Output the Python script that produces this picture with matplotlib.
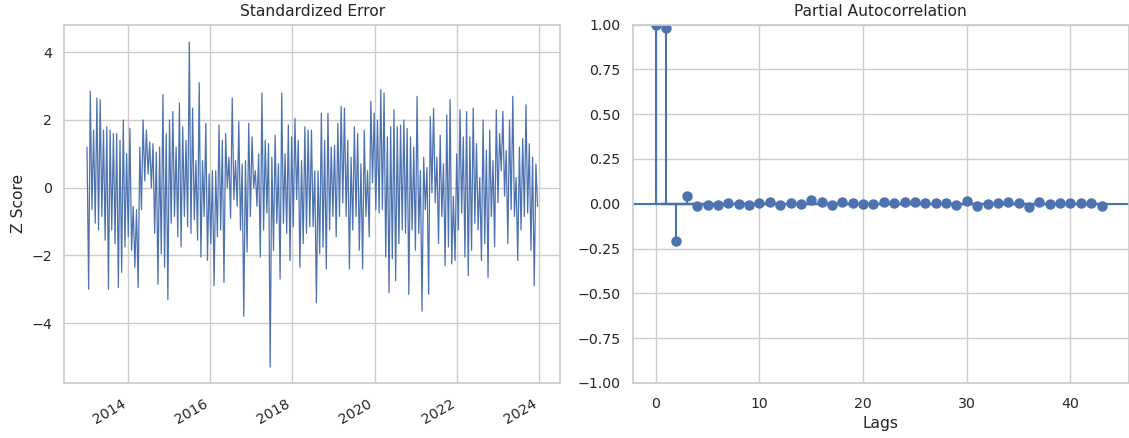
import numpy as np
import pandas as pd
import matplotlib
matplotlib.use("Agg")
import matplotlib.pyplot as plt
import matplotlib.dates as mdates

# standardized residuals, read as (high, low) per short time slice, left to right
err_hi = [1.2, 2.85, 1.7, 2.65, 2.6, 1.7, 1.8, 1.7, 1.6, 1.6, 1.4, 2.0, 1.0, 1.75, -0.55, -0.65, 1.2, 2.0, 1.7, 1.35, 1.3, 1.05,
          1.2, 2.75, 1.6, 2.0, 2.25, 1.2, 2.5, 1.8, 1.4, 4.3, 2.35, 0.8, 3.1, 0.8, 1.9, 0.4, 0.5, 0.5, 1.85, 1.4, 1.6, 0.9, 2.65,
          0.8, 1.95, 0.7, 0.8, 1.9, 1.5, 0.5, 1.0, 2.8, 1.4, 1.3, 0.9, 1.55, 0.7, 2.8, 1.0, 1.85, 1.5, 2.05, 1.4, 0.8, 1.8, 1.7,
          1.7, 0.5, 0.5, 2.2, 1.4, 2.2, 1.2, 1.25, 1.9, 2.4, 2.35, 1.4, 0.9, 1.8, 1.6, 0.7, 1.7, 0.5, 2.55, 2.2, 2.0, 2.9, 2.8,
          1.5, 1.8, 2.3, 1.8, 1.85, 2.0, 1.75, 1.5, 1.2, 2.7, 0.5, 0.9, 0.6, 2.1, 2.35, 0.9, 1.55, 0.7, 2.15, 2.6, -0.25, 1.0, 2.3,
          1.5, 2.25, 1.5, 2.35, 1.3, 0.3, 2.0, 1.1, 1.7, 0.8, 2.3, 1.6, 2.25, 1.1, 2.0, 2.7, 0.3, 1.2, 1.45, 2.45, 1.3, 0.9, 0.7]
err_lo = [-3.0, -0.65, -1.05, -1.25, -0.85, -1.55, -3.0, -1.25, -1.65, -2.95, -2.5, -1.75, -1.45, -1.85, -2.35, -2.95, -0.65, 0.2, 0.4, 0.0, -1.35, -2.85,
          -1.95, -2.35, -3.3, -1.05, -0.85, -1.45, -1.75, -0.85, -1.15, -1.35, -0.95, -1.55, -2.05, -0.85, -2.15, -1.65, -2.9, -1.45, -1.25, -2.8, 0.0, -0.9, -0.35,
          -0.55, -1.25, -3.8, -1.9, -0.85, 0.0, -0.55, -2.05, -1.25, -0.75, -5.3, -1.85, -1.05, -2.7, -1.05, -1.35, -2.15, -1.15, -0.35, -2.35, -1.65, -1.35, -1.15,
          -1.15, -3.4, -1.95, -1.75, -2.4, -1.25, -0.85, -1.45, -0.85, -0.45, -0.85, -2.4, -1.25, -0.85, -1.85, -2.4, -0.85, -1.45, 0.15, -0.65, -0.75, -0.65, -2.05,
          -3.1, -2.1, -2.75, -1.65, -1.25, -1.35, -3.15, -1.25, -1.85, -1.35, -3.65, -0.65, -3.15, -0.15, -0.45, -1.65, -0.85, -2.3, -1.75, -2.25, -2.15, -1.25, -0.75,
          -2.05, -2.6, -1.85, -1.05, -1.25, -2.15, -1.65, -2.65, -0.85, -1.75, -0.45, 0.5, -0.25, -1.65, -0.65, -0.85, -2.15, -1.25, -0.85, -0.75, -1.85, -2.9, -0.55]
start_date = "2013-01-01"
end_date = "2023-12-20"

# partial autocorrelation, lags 0..43
pacf_vals = [1.0, 0.983, -0.21, 0.045, -0.011, -0.006, -0.006, 0.004, 0.0, -0.007,
             0.007, 0.009, -0.006, 0.004, 0.0, 0.022, 0.009, -0.005, 0.011, 0.002,
             -0.004, 0.0, 0.009, 0.004, 0.009, 0.009, 0.004, 0.004, 0.002, -0.009,
             0.017, -0.013, -0.002, 0.006, 0.009, 0.006, -0.017, 0.009, 0.0, 0.002,
             0.002, 0.007, 0.004, -0.011]
conf_band = 0.01

blue = "#4C72B0"
plt.rcParams.update({
    "font.family": "DejaVu Sans",
    "font.size": 11.2,
    "axes.titlesize": 11.2,
    "axes.labelsize": 11.2,
    "xtick.labelsize": 10.2,
    "ytick.labelsize": 10.2,
    "axes.edgecolor": "#cccccc",
    "axes.linewidth": 1.25,
    "axes.grid": True,
    "axes.axisbelow": True,
    "grid.color": "#cccccc",
    "grid.linewidth": 1,
    "text.color": "#262626",
    "axes.labelcolor": "#262626",
    "xtick.color": "#262626",
    "ytick.color": "#262626",
    "xtick.major.size": 0,
    "ytick.major.size": 0,
    "xtick.major.pad": 10,
    "ytick.major.pad": 9,
    "lines.solid_capstyle": "round",
})

series = []
for h, l in zip(err_hi, err_lo):
    series.append(h)
    series.append(l)
dates = pd.date_range(start_date, end_date, periods=len(series))

fig, axes = plt.subplots(1, 2, figsize=(11.29, 4.38), dpi=100)
fig.subplots_adjust(left=0.0571, right=0.9996, top=0.944, bottom=0.1256, wspace=0.147)

ax = axes[0]
ax.plot(dates, series, color=blue, linewidth=0.9)
ax.set_title("Standardized Error")
ax.set_ylabel("Z Score")
ax.set_ylim(-5.77, 4.82)
ax.xaxis.set_major_locator(mdates.YearLocator(2))
ax.xaxis.set_major_formatter(mdates.DateFormatter("%Y"))
for lbl in ax.get_xticklabels():
    lbl.set_rotation(30)
    lbl.set_ha("right")

ax = axes[1]
lags = np.arange(len(pacf_vals))
ax.vlines(lags, 0, pacf_vals, color=blue, linewidth=1.5)
ax.axhline(0, color=blue, linewidth=1.5)
ax.plot(lags, pacf_vals, "o", color=blue, markersize=6.5)
band_x = [0.5, len(pacf_vals) - 0.5]
ax.fill_between(band_x, -conf_band, conf_band, color=blue, alpha=0.25, linewidth=0)
ax.set_xlim(-2.2, 45.6)
ax.set_ylim(-1, 1)
ax.set_yticks(np.arange(-1, 1.01, 0.25))
ax.set_title("Partial Autocorrelation")
ax.set_xlabel("Lags")

fig.savefig("out.png", dpi=100)
